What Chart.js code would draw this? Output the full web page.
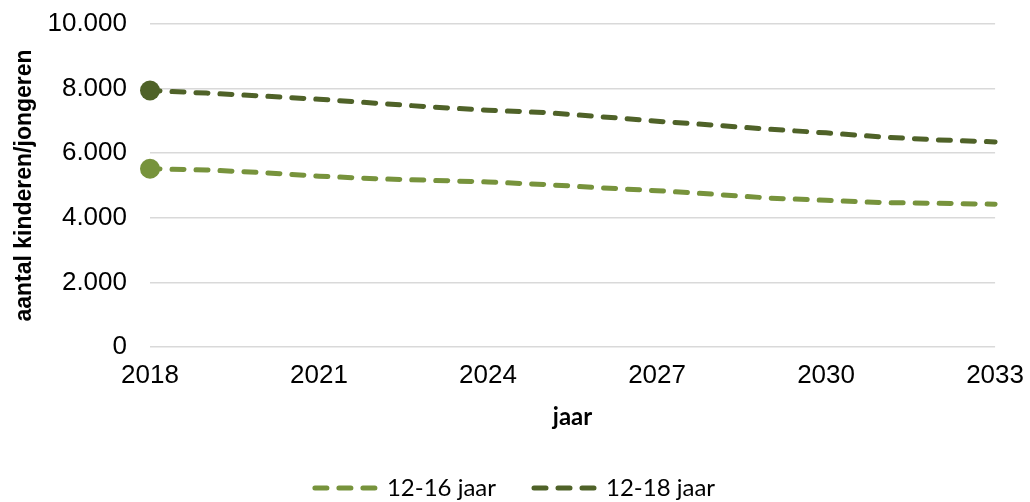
<!DOCTYPE html>
<html>
<head>
<meta charset="utf-8">
<script src="https://cdn.jsdelivr.net/npm/chart.js@4.4.1/dist/chart.umd.min.js"></script>
<style>
  html, body { margin: 0; padding: 0; background: #fff; }
  #wrap { width: 1030px; height: 502px; position: relative; }
</style>
</head>
<body>
<div id="wrap"><canvas id="chart"></canvas></div>
<script>
        // values
        const years = [2018, 2019, 2020, 2021, 2022, 2023, 2024, 2025, 2026, 2027, 2028, 2029, 2030, 2031, 2032, 2033];
        const jaar12tot16 = [5520, 5480, 5400, 5290, 5210, 5160, 5110, 5030, 4930, 4840, 4730, 4610, 4540, 4470, 4450, 4420];
        const jaar12tot18 = [7940, 7860, 7770, 7670, 7550, 7430, 7330, 7260, 7130, 6990, 6870, 6740, 6630, 6500, 6410, 6350];
        const seriesNames = ['12-16 jaar', '12-18 jaar'];
        const yTicks = [0, 2000, 4000, 6000, 8000, 10000];

        const lightGreen = '#77933c';
        const darkGreen = '#4f6228';

        function formatNl(v) {
            return String(v).replace(/\B(?=(\d{3})+(?!\d))/g, '.');
        }

        function makeDataset(label, values, color) {
            return {
                label: label,
                data: years.map((y, i) => ({ x: y, y: values[i] })),
                borderColor: color,
                backgroundColor: color,
                borderWidth: 5,
                borderDash: [12, 12],
                borderDashOffset: 2,
                borderCapStyle: 'round',
                tension: 0,
                pointRadius: (ctx) => ctx.dataIndex === 0 ? 10 : 0,
                pointBackgroundColor: color,
                pointBorderWidth: 0,
                pointHoverRadius: 0,
                clip: false
            };
        }

        const tickFont = { family: '"Liberation Sans", Arial, sans-serif', size: 26 };

        new Chart(document.getElementById('chart'), {
            type: 'line',
            data: {
                datasets: [
                    makeDataset(seriesNames[0], jaar12tot16, lightGreen),
                    makeDataset(seriesNames[1], jaar12tot18, darkGreen)
                ]
            },
            options: {
                responsive: true,
                maintainAspectRatio: false,
                animation: false,
                layout: { padding: { top: 24, right: 0, bottom: -8, left: 0 } },
                plugins: {
                    tooltip: { enabled: false },
                    legend: {
                        position: 'bottom',
                        labels: {
                            usePointStyle: true,
                            pointStyle: 'line',
                            pointStyleWidth: 60,
                            padding: 38,
                            color: '#000',
                            font: { family: 'Lato, "Open Sans", sans-serif', size: 24 },
                            generateLabels: (chart) => Chart.defaults.plugins.legend.labels.generateLabels(chart)
                                .map(item => Object.assign(item, { lineWidth: 5, lineDashOffset: 0, lineDash: [12, 12], lineCap: 'round', pointStyle: 'line' }))
                        }
                    }
                },
                scales: {
                    x: {
                        type: 'linear',
                        min: years[0],
                        max: years[years.length - 1],
                        grid: { display: true, drawOnChartArea: false, color: 'transparent', tickColor: 'transparent', tickLength: 7 },
                        border: { display: false },
                        ticks: {
                            stepSize: 3,
                            color: '#000',
                            font: tickFont,
                            padding: 6,
                            maxRotation: 0,
                            callback: (v) => String(v)
                        },
                        title: {
                            display: true,
                            text: 'jaar',
                            color: '#000',
                            font: { family: 'Lato, "Open Sans", sans-serif', size: 24, weight: 'bold' },
                            padding: { top: 0, bottom: 6 }
                        },
                        afterFit: (scale) => { scale.height = 91; }
                    },
                    y: {
                        min: yTicks[0],
                        max: yTicks[yTicks.length - 1],
                        afterBuildTicks: (scale) => { scale.ticks = yTicks.map(v => ({ value: v })); },
                        grid: { color: '#d9d9d9', lineWidth: 1.5, tickColor: 'transparent', tickLength: 23 },
                        border: { display: false },
                        ticks: {
                            color: '#000',
                            font: tickFont,
                            padding: 0,
                            callback: (v) => formatNl(v)
                        },
                        title: {
                            display: true,
                            text: 'aantal kinderen/jongeren',
                            color: '#000',
                            font: { family: '"Liberation Sans", Arial, sans-serif', size: 23, weight: 'bold' },
                            padding: { top: 11, bottom: 0 }
                        },
                        afterFit: (scale) => { scale.width = 150; }
                    }
                }
            }
        });
</script>
</body>
</html>
